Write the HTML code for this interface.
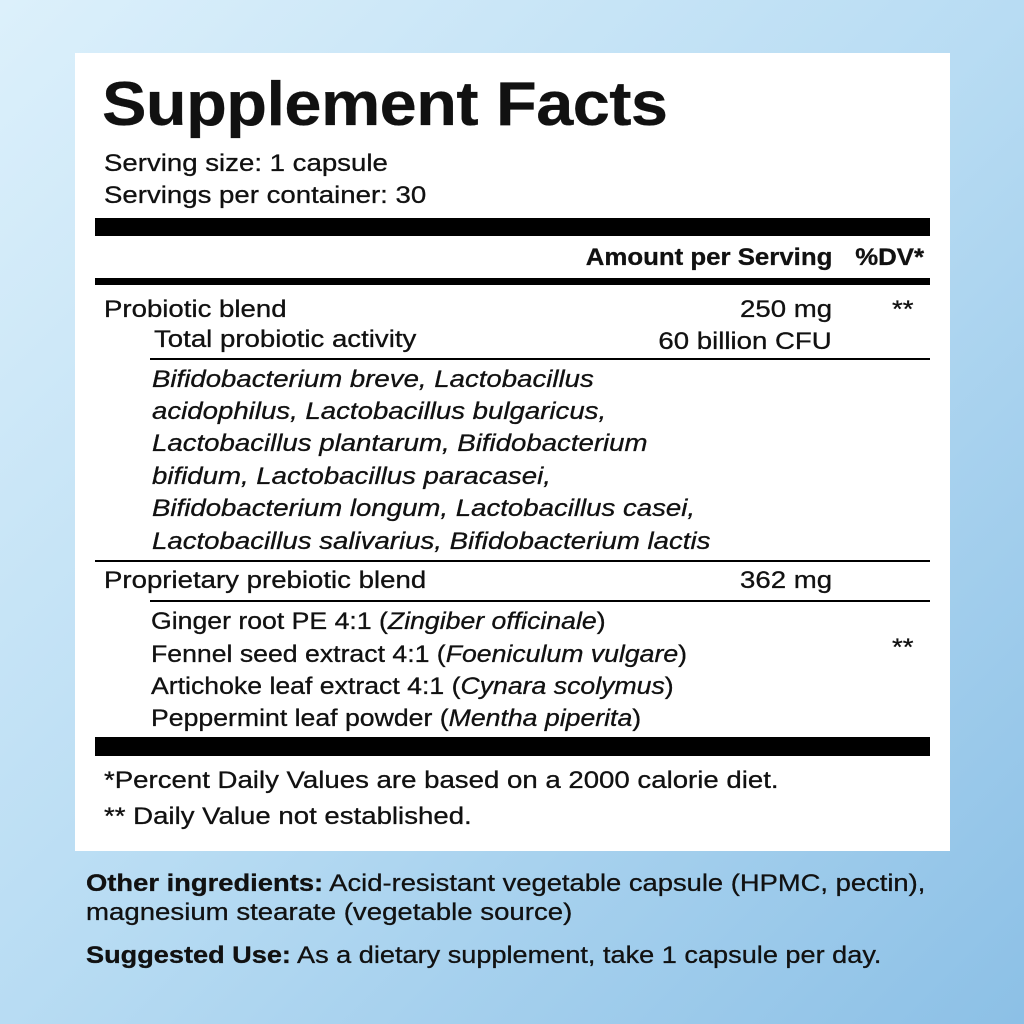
<!DOCTYPE html>
<html><head><meta charset="utf-8"><style>
*{margin:0;padding:0;box-sizing:border-box}
body{width:1024px;height:1024px;overflow:hidden;position:relative;font-family:"Liberation Sans",Arial,sans-serif;color:#111;
background:linear-gradient(135deg,#dcf0fb 0%,#b8dcf3 50%,#8cc0e6 100%);}
.p{position:absolute;left:75px;top:53px;width:875px;height:798px;background:#fff}
.t{position:absolute;white-space:nowrap;font-size:24px;line-height:1;transform:scaleX(1.15);transform-origin:left top;-webkit-text-stroke:0.3px #111}
.r{transform-origin:right top}
.b{font-weight:bold;transform:scaleX(1.075)}
.i{font-style:italic}
.m{transform:scaleX(1.11)}
.bar{position:absolute;background:#000}
</style></head><body>
<div class="p"></div>
<div class="t b" style="left:102px;top:74px;font-size:62px;letter-spacing:-0.5px">Supplement Facts</div>
<div class="t" style="left:104px;top:152px">Serving size: 1 capsule</div>
<div class="t" style="left:104px;top:184px">Servings per container: 30</div>
<div class="bar" style="left:95px;top:218px;width:835px;height:18px"></div>
<div class="t b r" style="right:192px;top:246px">Amount per Serving</div>
<div class="t b r" style="right:100px;top:246px">%DV*</div>
<div class="bar" style="left:95px;top:278px;width:835px;height:7px"></div>
<div class="t" style="left:104px;top:298px">Probiotic blend</div>
<div class="t r" style="right:192px;top:298px">250 mg</div>
<div class="t" style="left:892px;top:298px">**</div>
<div class="t" style="left:154px;top:328px">Total probiotic activity</div>
<div class="t r" style="right:192px;top:330px">60 billion CFU</div>
<div class="bar" style="left:150px;top:358px;width:780px;height:2px"></div>
<div class="t i" style="left:152px;top:368px">Bifidobacterium breve, Lactobacillus</div>
<div class="t i" style="left:152px;top:400px">acidophilus, Lactobacillus bulgaricus,</div>
<div class="t i" style="left:152px;top:432px">Lactobacillus plantarum, Bifidobacterium</div>
<div class="t i" style="left:152px;top:465px">bifidum, Lactobacillus paracasei,</div>
<div class="t i" style="left:152px;top:497px">Bifidobacterium longum, Lactobacillus casei,</div>
<div class="t i" style="left:152px;top:530px">Lactobacillus salivarius, Bifidobacterium lactis</div>
<div class="bar" style="left:95px;top:560px;width:835px;height:2px"></div>
<div class="t" style="left:104px;top:569px">Proprietary prebiotic blend</div>
<div class="t r" style="right:192px;top:569px">362 mg</div>
<div class="bar" style="left:150px;top:600px;width:780px;height:2px"></div>
<div class="t m" style="left:151px;top:610px">Ginger root PE 4:1 (<i>Zingiber officinale</i>)</div>
<div class="t m" style="left:151px;top:643px">Fennel seed extract 4:1 (<i>Foeniculum vulgare</i>)</div>
<div class="t m" style="left:151px;top:675px">Artichoke leaf extract 4:1 (<i>Cynara scolymus</i>)</div>
<div class="t m" style="left:151px;top:707px">Peppermint leaf powder (<i>Mentha piperita</i>)</div>
<div class="t" style="left:892px;top:636px">**</div>
<div class="bar" style="left:95px;top:737px;width:835px;height:19px"></div>
<div class="t" style="left:104px;top:769px">*Percent Daily Values are based on a 2000 calorie diet.</div>
<div class="t" style="left:104px;top:805px">** Daily Value not established.</div>
<div class="t" style="left:86px;top:872px;transform:scaleX(1.14)"><b>Other ingredients:</b> Acid-resistant vegetable capsule (HPMC, pectin),</div>
<div class="t" style="left:86px;top:901px">magnesium stearate (vegetable source)</div>
<div class="t" style="left:86px;top:944px;transform:scaleX(1.13)"><b>Suggested Use:</b> As a dietary supplement, take 1 capsule per day.</div>
</body></html>
